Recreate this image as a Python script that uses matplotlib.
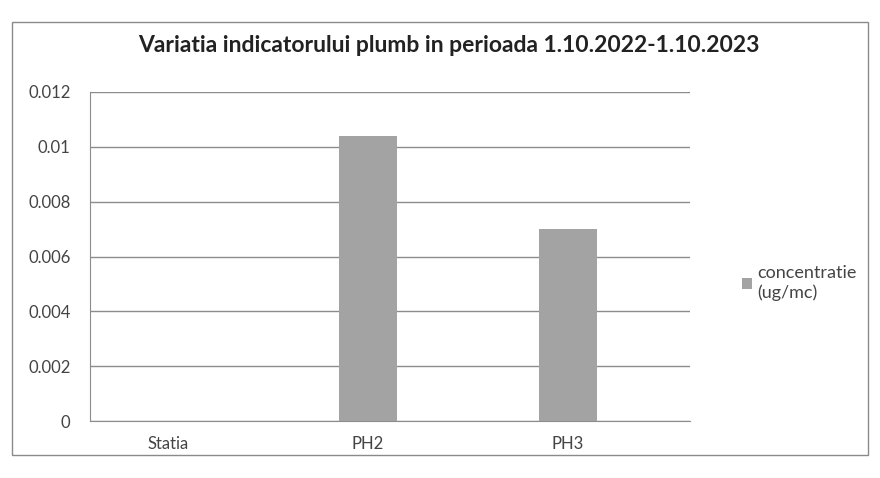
import matplotlib
matplotlib.use("Agg")
import matplotlib.pyplot as plt
from matplotlib.patches import Rectangle

categories = ["Statia", "PH2", "PH3"]
values = [0.0, 0.0104, 0.0070]
yticks = [0, 0.002, 0.004, 0.006, 0.008, 0.01, 0.012]
ytick_labels = ["0", "0.002", "0.004", "0.006", "0.008", "0.01", "0.012"]
title = "Variatia indicatorului plumb in perioada 1.10.2022-1.10.2023"
legend_label = "concentratie\n(ug/mc)"

plt.rcParams['font.family'] = ['Lato', 'DejaVu Sans']

fig = plt.figure(figsize=(8.8, 4.78), dpi=100)
fig.patch.set_facecolor("white")
fig.patches.append(Rectangle((12/880, 1-455/478), (868-12)/880, (455-22)/478,
                             transform=fig.transFigure, fill=False,
                             edgecolor="#8a8a8a", linewidth=1.0))

ax = fig.add_axes([90/880, 1-421/478, 600/880, (421-92)/478])
x = list(range(len(categories)))
ax.bar(x, values, width=0.29, color="#a3a3a3", label=legend_label, zorder=3)
ax.set_xlim(-0.39, 2.61)
ax.set_ylim(0, 0.012)
ax.set_yticks(yticks)
ax.set_yticklabels(ytick_labels, color="#444444", fontsize=12)
ax.set_xticks(x)
ax.set_xticklabels(categories, color="#444444", fontsize=12)
ax.tick_params(axis="y", length=0, pad=14)
ax.tick_params(axis="x", length=0, pad=11)
ax.grid(axis="y", color="#8c8c8c", linewidth=1.0, zorder=0)
for s in ["top", "right"]:
    ax.spines[s].set_visible(False)
ax.spines["left"].set_color("#8c8c8c")
ax.spines["bottom"].set_color("#8c8c8c")

fig.text(449/880, 1-45/478, title, ha="center", va="center",
         fontsize=16.5, fontweight="bold", color="#222222")

leg = fig.legend(loc="center left", bbox_to_anchor=(735/880, 1-283/478),
                 frameon=False, fontsize=13, handlelength=0.55, handleheight=0.55,
                 handletextpad=0.3, borderaxespad=0)
for t in leg.get_texts():
    t.set_color("#444444")

fig.savefig("out.png", dpi=100, facecolor="white")
